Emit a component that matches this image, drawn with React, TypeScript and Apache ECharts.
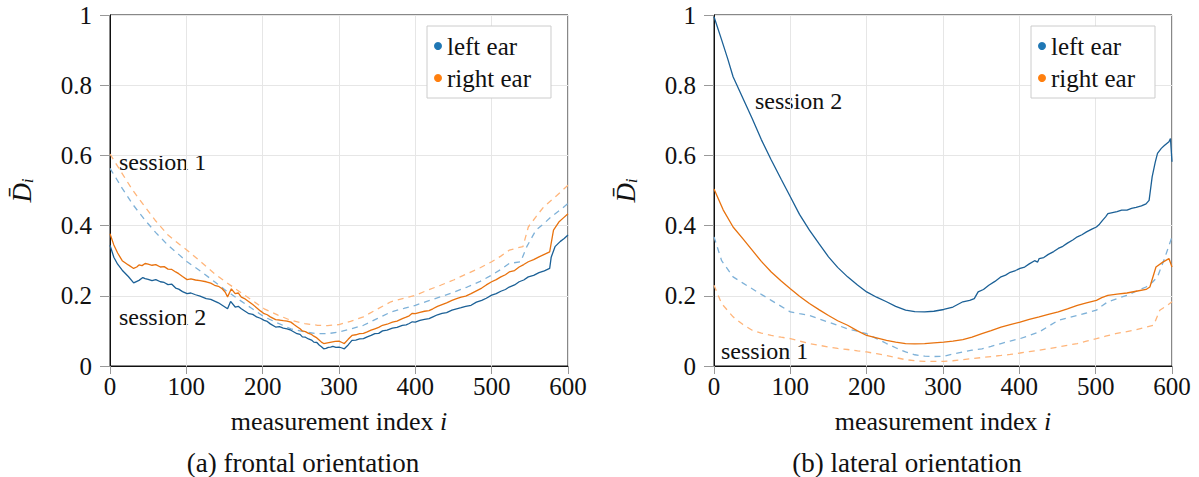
import React, { useEffect, useRef } from "react";
import * as echarts from "echarts";

// ---- data (measurement index, mean distance) ----
const xTicks = [0, 100, 200, 300, 400, 500, 600];
const yTicks = [0, 0.2, 0.4, 0.6, 0.8, 1];
const legendNames = ["left ear", "right ear"];

// (a) frontal orientation
const frontalLeftS2: number[][] = [[0,0.344],[5,0.31],[10,0.29],[16,0.273],[24,0.255],[31,0.237],[38,0.244],[43,0.252],[46,0.249],[50,0.247],[55,0.243],[60,0.246],[66,0.240],[71,0.238],[76,0.232],[81,0.233],[86,0.222],[90,0.219],[95,0.212],[101,0.206],[106,0.208],[112,0.203],[118,0.199],[126,0.192],[132,0.190],[137,0.185],[142,0.180],[147,0.173],[154,0.163],[158,0.184],[164,0.168],[168,0.170],[172,0.163],[177,0.156],[182,0.149],[187,0.147],[192,0.140],[197,0.136],[202,0.130],[206,0.127],[210,0.120],[217,0.111],[222,0.112],[227,0.108],[232,0.106],[237,0.102],[241,0.097],[245,0.092],[249,0.090],[252,0.083],[256,0.082],[260,0.077],[264,0.074],[267,0.068],[271,0.067],[274,0.060],[277,0.055],[280,0.049],[283,0.050],[286,0.053],[289,0.054],[292,0.056],[296,0.053],[300,0.054],[303,0.052],[307,0.049],[312,0.060],[317,0.073],[322,0.074],[327,0.077],[332,0.078],[337,0.083],[342,0.087],[347,0.092],[352,0.093],[357,0.100],[363,0.102],[370,0.108],[376,0.110],[383,0.116],[388,0.117],[392,0.121],[396,0.126],[400,0.125],[406,0.130],[412,0.133],[418,0.135],[423,0.140],[429,0.146],[435,0.150],[441,0.152],[448,0.159],[454,0.163],[460,0.166],[466,0.170],[473,0.173],[480,0.182],[487,0.187],[493,0.193],[500,0.202],[506,0.206],[512,0.213],[518,0.218],[523,0.225],[530,0.231],[536,0.240],[542,0.245],[548,0.254],[555,0.258],[562,0.266],[569,0.271],[576,0.278],[578,0.31],[583,0.34],[590,0.355],[595,0.363],[600,0.373]];
const frontalRightS2: number[][] = [[0,0.377],[5,0.345],[10,0.322],[16,0.300],[24,0.288],[31,0.278],[35,0.282],[38,0.288],[42,0.286],[46,0.292],[50,0.290],[55,0.287],[60,0.289],[66,0.282],[71,0.283],[76,0.276],[81,0.275],[86,0.268],[90,0.263],[95,0.255],[101,0.246],[106,0.248],[112,0.245],[118,0.243],[126,0.240],[132,0.236],[137,0.230],[142,0.227],[147,0.220],[151,0.210],[154,0.197],[159,0.220],[164,0.206],[168,0.208],[172,0.196],[177,0.191],[182,0.183],[187,0.175],[192,0.166],[197,0.157],[202,0.149],[206,0.146],[210,0.140],[217,0.132],[222,0.131],[227,0.129],[232,0.128],[237,0.125],[241,0.118],[245,0.112],[249,0.106],[252,0.100],[256,0.098],[260,0.093],[264,0.090],[267,0.085],[271,0.080],[274,0.074],[277,0.068],[280,0.064],[285,0.066],[290,0.068],[295,0.070],[300,0.071],[304,0.067],[307,0.064],[312,0.076],[317,0.087],[322,0.089],[327,0.092],[332,0.093],[337,0.097],[342,0.102],[347,0.106],[352,0.110],[357,0.116],[363,0.119],[370,0.125],[376,0.128],[383,0.135],[388,0.139],[392,0.143],[396,0.150],[400,0.149],[406,0.153],[412,0.156],[418,0.158],[423,0.163],[429,0.170],[435,0.175],[441,0.180],[448,0.187],[454,0.192],[460,0.196],[466,0.199],[473,0.206],[480,0.214],[487,0.222],[493,0.231],[500,0.240],[506,0.246],[512,0.254],[518,0.260],[523,0.268],[530,0.272],[536,0.282],[542,0.289],[548,0.297],[555,0.303],[562,0.311],[569,0.318],[576,0.325],[581,0.387],[588,0.410],[594,0.422],[600,0.434]];
const frontalLeftS1: number[][] = [[0,0.563],[8,0.535],[16,0.506],[30,0.46],[46,0.415],[60,0.38],[76,0.344],[90,0.318],[101,0.297],[120,0.268],[137,0.240],[150,0.218],[167,0.192],[185,0.165],[202,0.140],[220,0.122],[237,0.106],[255,0.097],[272,0.092],[285,0.092],[300,0.097],[315,0.105],[332,0.116],[350,0.135],[368,0.154],[385,0.164],[400,0.173],[415,0.184],[433,0.197],[450,0.21],[468,0.225],[485,0.241],[500,0.259],[512,0.275],[523,0.292],[538,0.297],[546,0.340],[558,0.387],[568,0.405],[578,0.425],[590,0.445],[600,0.463]];
const frontalRightS1: number[][] = [[0,0.604],[8,0.576],[16,0.548],[30,0.50],[46,0.453],[60,0.413],[76,0.373],[90,0.348],[101,0.330],[120,0.295],[137,0.263],[150,0.242],[167,0.216],[185,0.189],[202,0.163],[220,0.145],[237,0.130],[255,0.121],[272,0.116],[285,0.115],[300,0.118],[315,0.127],[332,0.140],[350,0.162],[368,0.183],[385,0.193],[400,0.2015],[415,0.215],[433,0.230],[450,0.245],[468,0.263],[485,0.280],[500,0.297],[512,0.313],[523,0.330],[533,0.336],[541,0.340],[548,0.396],[558,0.425],[568,0.453],[585,0.485],[600,0.515]];

// (b) lateral orientation
const lateralLeftS2: number[][] = [[0,0.995],[10,0.929],[18,0.875],[25,0.824],[38,0.762],[50,0.705],[62,0.645],[75,0.587],[88,0.532],[100,0.482],[112,0.432],[125,0.387],[138,0.347],[150,0.311],[162,0.281],[175,0.254],[188,0.231],[200,0.211],[213,0.196],[226,0.183],[238,0.170],[251,0.159],[263,0.155],[276,0.154],[288,0.156],[301,0.161],[313,0.168],[326,0.183],[335,0.187],[341,0.192],[346,0.211],[353,0.218],[360,0.230],[368,0.241],[376,0.254],[382,0.259],[388,0.267],[395,0.272],[401,0.278],[407,0.282],[413,0.291],[420,0.300],[424,0.296],[426,0.306],[432,0.309],[438,0.318],[445,0.326],[451,0.335],[457,0.341],[463,0.350],[470,0.359],[476,0.368],[482,0.374],[488,0.382],[495,0.390],[501,0.396],[505,0.404],[509,0.415],[513,0.425],[516,0.434],[522,0.437],[528,0.440],[534,0.444],[541,0.444],[547,0.449],[553,0.452],[560,0.456],[566,0.462],[570,0.472],[574,0.539],[578,0.580],[581,0.606],[586,0.620],[590,0.628],[596,0.639],[598,0.648],[600,0.582]];
const lateralRightS2: number[][] = [[0,0.504],[12,0.445],[25,0.396],[38,0.362],[50,0.330],[62,0.298],[75,0.268],[88,0.242],[100,0.220],[112,0.199],[125,0.178],[138,0.160],[150,0.144],[162,0.129],[175,0.116],[188,0.100],[200,0.087],[213,0.080],[226,0.073],[238,0.068],[251,0.064],[263,0.063],[276,0.064],[288,0.066],[301,0.068],[313,0.071],[326,0.075],[338,0.082],[351,0.092],[363,0.101],[376,0.111],[388,0.118],[401,0.125],[413,0.133],[426,0.140],[438,0.147],[451,0.154],[463,0.163],[476,0.173],[488,0.180],[501,0.187],[508,0.195],[516,0.2015],[528,0.205],[541,0.208],[553,0.213],[566,0.218],[571,0.225],[579,0.282],[588,0.296],[596,0.306],[600,0.282]];
const lateralLeftS1: number[][] = [[0,0.368],[10,0.300],[25,0.254],[38,0.236],[50,0.220],[62,0.204],[75,0.187],[88,0.170],[100,0.154],[112,0.149],[125,0.144],[138,0.134],[150,0.125],[162,0.116],[175,0.106],[188,0.099],[200,0.092],[213,0.078],[226,0.064],[238,0.052],[251,0.040],[263,0.032],[276,0.028],[288,0.027],[301,0.028],[313,0.034],[326,0.040],[338,0.045],[351,0.049],[363,0.056],[376,0.064],[388,0.071],[401,0.078],[413,0.087],[426,0.097],[438,0.113],[451,0.130],[463,0.137],[476,0.144],[488,0.151],[501,0.159],[508,0.171],[516,0.183],[528,0.192],[541,0.2015],[553,0.213],[566,0.225],[574,0.238],[581,0.254],[590,0.305],[600,0.368]];
const lateralRightS1: number[][] = [[0,0.230],[10,0.178],[25,0.140],[38,0.118],[50,0.102],[62,0.094],[75,0.087],[88,0.082],[100,0.078],[112,0.071],[125,0.064],[138,0.059],[150,0.054],[162,0.050],[175,0.047],[188,0.043],[200,0.040],[213,0.035],[226,0.030],[238,0.024],[251,0.018],[263,0.015],[276,0.013],[288,0.013],[301,0.013],[313,0.015],[326,0.018],[338,0.021],[351,0.024],[363,0.027],[376,0.030],[388,0.033],[401,0.037],[413,0.041],[426,0.045],[438,0.049],[451,0.054],[463,0.059],[476,0.064],[488,0.071],[501,0.078],[513,0.085],[526,0.092],[538,0.097],[551,0.102],[563,0.109],[576,0.116],[584,0.159],[592,0.170],[600,0.183]];

const FONT = "Liberation Serif";
const FS = 25;
const C_BLUE = "#1b6096";
const C_BLUE_L = "#7eb1d8";
const C_ORANGE = "#e8720e";
const C_ORANGE_L = "#ffb57a";
const C_BLUE_DOT = "#1f77b4";
const C_ORANGE_DOT = "#ff7f0e";

const grids = [
  { left: 110, top: 15, width: 458, height: 351 },
  { left: 714, top: 15, width: 458, height: 351 },
];

function makeXAxis(idx: number) {
  return {
    type: "value",
    gridIndex: idx,
    min: xTicks[0],
    max: xTicks[xTicks.length - 1],
    interval: 100,
    name: "measurement index {i|i}",
    nameLocation: "middle",
    nameGap: 42,
    nameTextStyle: {
      fontFamily: FONT, fontSize: 26, color: "#111",
      rich: { i: { fontFamily: FONT, fontSize: 26, fontStyle: "italic", color: "#111" } },
    },
    axisLine: { show: true, onZero: false, lineStyle: { color: "#111", width: 1 } },
    axisTick: { show: true, inside: false, length: 8, lineStyle: { color: "#999" } },
    axisLabel: { margin: 8, fontFamily: FONT, fontSize: FS, color: "#111" },
    splitLine: { show: true, lineStyle: { color: "#e6e6e6", width: 1 } },
  };
}

function makeYAxis(idx: number) {
  return {
    type: "value",
    gridIndex: idx,
    min: yTicks[0],
    max: yTicks[yTicks.length - 1],
    interval: 0.2,
    name: "{d|D\u0304}{s|i}",
    nameLocation: "middle",
    nameGap: 74,
    nameRotate: 90,
    nameTextStyle: {
      rich: {
        d: { fontFamily: FONT, fontSize: 27, fontStyle: "italic", color: "#111" },
        s: { fontFamily: FONT, fontSize: 17, fontStyle: "italic", color: "#111", padding: [12, 0, 0, 0] },
      },
    },
    axisLine: { show: true, lineStyle: { color: "#111", width: 1 } },
    axisTick: { show: true, inside: false, length: 10, lineStyle: { color: "#999" } },
    axisLabel: {
      margin: 18, fontFamily: FONT, fontSize: FS, color: "#111",
      formatter: (v: number) => (v === 0 || v === 1 ? String(v) : v.toFixed(1)),
    },
    splitLine: { show: true, lineStyle: { color: "#e6e6e6", width: 1 } },
  };
}

function line(name: string, data: number[][], idx: number, color: string, dashed: boolean) {
  return {
    type: "line",
    name,
    xAxisIndex: idx,
    yAxisIndex: idx,
    data,
    showSymbol: false,
    symbol: "none",
    lineStyle: { color, width: 1.3, type: dashed ? [6, 5] : "solid" },
    itemStyle: { color },
    z: dashed ? 2 : 3,
    silent: true,
  };
}

function makeLegend(left: number) {
  return {
    left,
    top: 26,
    orient: "vertical",
    backgroundColor: "#fff",
    borderColor: "#cccccc",
    borderWidth: 1,
    padding: [6, 20, 6, 7],
    itemGap: 4,
    itemWidth: 8,
    itemHeight: 8,
    icon: "circle",
    selectedMode: false,
    textStyle: { fontFamily: FONT, fontSize: FS, color: "#111", padding: [0, 0, 0, 0], lineHeight: 28 },
    data: [
      { name: legendNames[0], itemStyle: { color: C_BLUE_DOT } },
      { name: legendNames[1], itemStyle: { color: C_ORANGE_DOT } },
    ],
  };
}

function txt(text: string, x: number, y: number, size: number, align: string = "left") {
  return {
    type: "text",
    x,
    y,
    silent: true,
    style: { text, fontFamily: FONT, fontSize: size, fill: "#111", align, verticalAlign: "middle" },
  };
}

export default function App() {
  const ref = useRef<HTMLDivElement>(null);
  useEffect(() => {
    if (!ref.current) return;
    const chart = echarts.init(ref.current, null, { renderer: "svg" });
    chart.setOption({
      animation: false,
      backgroundColor: "#fff",
      grid: grids.map((g) => ({ ...g, show: true, borderColor: "#111", borderWidth: 1, containLabel: false })),
      xAxis: [makeXAxis(0), makeXAxis(1)],
      yAxis: [makeYAxis(0), makeYAxis(1)],
      legend: [makeLegend(427), makeLegend(1031)],
      series: [
        line("left ear, session 1", frontalLeftS1, 0, C_BLUE_L, true),
        line("right ear, session 1", frontalRightS1, 0, C_ORANGE_L, true),
        line(legendNames[0], frontalLeftS2, 0, C_BLUE, false),
        line(legendNames[1], frontalRightS2, 0, C_ORANGE, false),
        line("left ear, session 1 ", lateralLeftS1, 1, C_BLUE_L, true),
        line("right ear, session 1 ", lateralRightS1, 1, C_ORANGE_L, true),
        line(legendNames[0], lateralLeftS2, 1, C_BLUE, false),
        line(legendNames[1], lateralRightS2, 1, C_ORANGE, false),
      ],
      graphic: [
        txt("session 1", 119, 162, 24),
        txt("session 2", 119, 317, 24),
        txt("session 2", 755, 101, 24),
        txt("session 1", 721, 351, 24),
        txt("(a) frontal orientation", 303, 463, 27, "center"),
        txt("(b) lateral orientation", 907, 463, 27, "center"),
      ],
    });
    return () => chart.dispose();
  }, []);
  return (
    <div
      ref={ref}
      style={{ position: "absolute", left: 0, top: 0, width: 1199, height: 477, background: "#fff" }}
    />
  );
}
